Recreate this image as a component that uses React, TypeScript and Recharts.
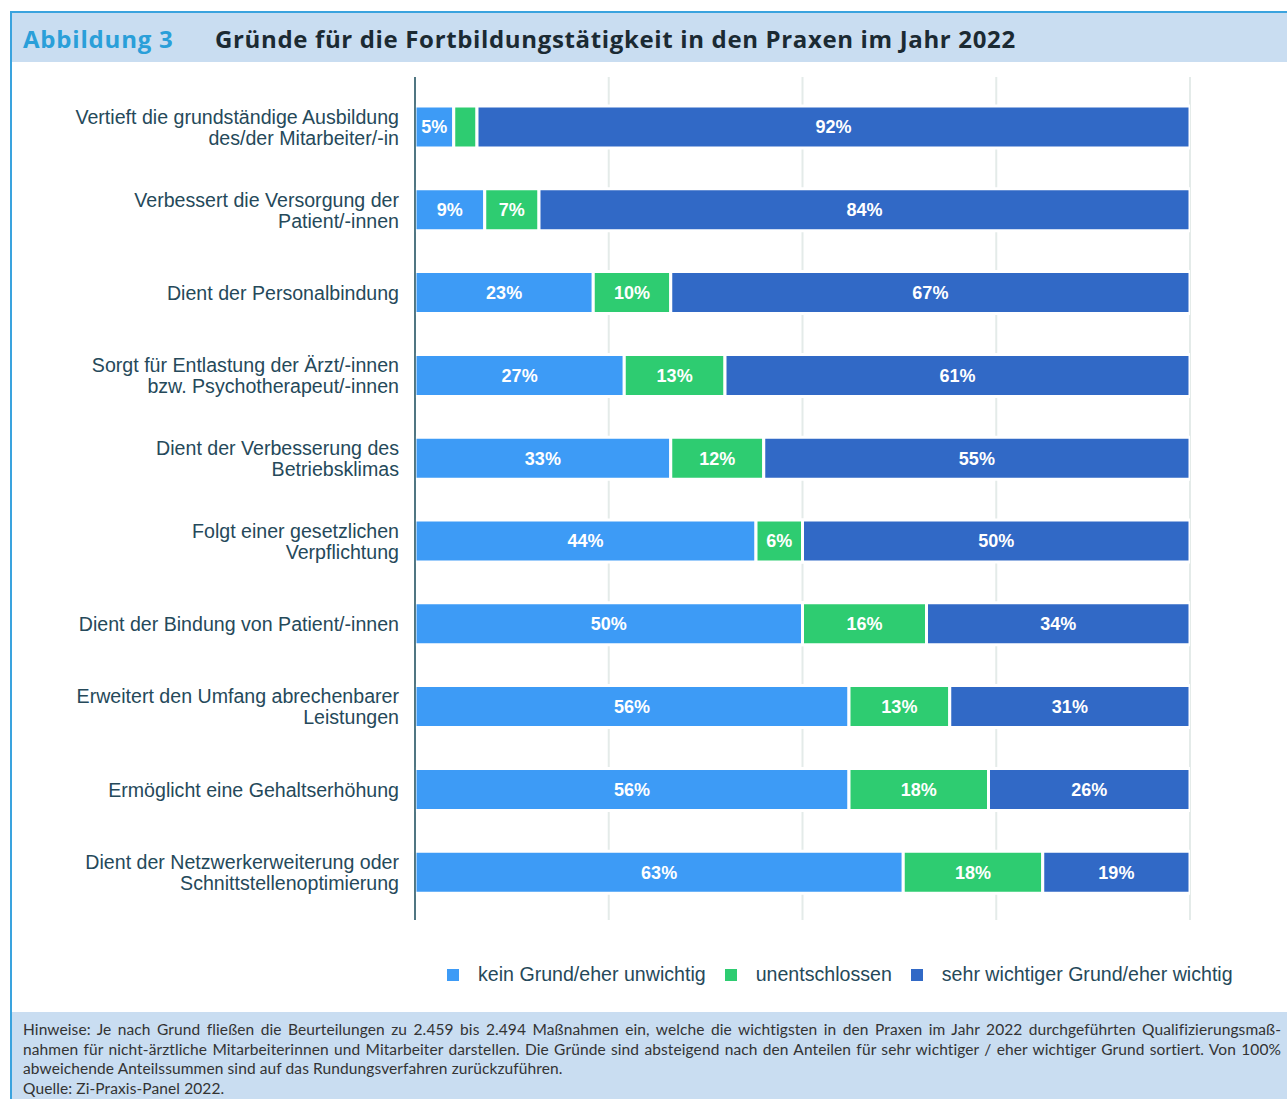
import React from "react";
import {
  Bar,
  BarChart,
  CartesianGrid,
  LabelList,
  Legend,
  XAxis,
  YAxis,
} from "recharts";

const categories = [
  "Vertieft die grundständige Ausbildung\ndes/der Mitarbeiter/-in",
  "Verbessert die Versorgung der\nPatient/-innen",
  "Dient der Personalbindung",
  "Sorgt für Entlastung der Ärzt/-innen\nbzw. Psychotherapeut/-innen",
  "Dient der Verbesserung des\nBetriebsklimas",
  "Folgt einer gesetzlichen\nVerpflichtung",
  "Dient der Bindung von Patient/-innen",
  "Erweitert den Umfang abrechenbarer\nLeistungen",
  "Ermöglicht eine Gehaltserhöhung",
  "Dient der Netzwerkerweiterung oder\nSchnittstellenoptimierung",
];

const keinGrund = [5, 9, 23, 27, 33, 44, 50, 56, 56, 63];
const unentschlossen = [3, 7, 10, 13, 12, 6, 16, 13, 18, 18];
const sehrWichtig = [92, 84, 67, 61, 55, 50, 34, 31, 26, 19];

const xTicks = [0, 25, 50, 75, 100];

const SERIES = [
  { key: "kein", name: "kein Grund/eher unwichtig", color: "#3d9bf6" },
  { key: "unent", name: "unentschlossen", color: "#2ecc71" },
  { key: "sehr", name: "sehr wichtiger Grund/eher wichtig", color: "#3169c6" },
];

const data = categories.map((c, i) => ({
  cat: c,
  kein: keinGrund[i],
  unent: unentschlossen[i],
  sehr: sehrWichtig[i],
}));

const TEXT = "#25495a";
const BAND = "#c9ddf1";
const FRAME = "#3aa3de";
const SANS = "'Liberation Sans', Arial, sans-serif";

function CategoryTick({ x, y, payload }: any) {
  const lines = String(payload.value).split("\n");
  const lh = 21;
  const start = -((lines.length - 1) * lh) / 2;
  return (
    <text x={x} y={y} textAnchor="end" fill={TEXT} fontSize={19.6} fontFamily={SANS}>
      {lines.map((l, i) => (
        <tspan key={i} x={x} y={y + start + i * lh} dy="0.35em">
          {l}
        </tspan>
      ))}
    </text>
  );
}

function LegendContent() {
  return (
    <div style={{ display: "flex", alignItems: "center", fontFamily: SANS, fontSize: 19.6, color: TEXT }}>
      {SERIES.map((s) => (
        <div key={s.key} style={{ display: "flex", alignItems: "center", marginRight: 19 }}>
          <span style={{ width: 12, height: 12, background: s.color, display: "inline-block", marginRight: 19 }} />
          <span>{s.name}</span>
        </div>
      ))}
    </div>
  );
}

const fmt = (v: any) => (Number(v) >= 4 ? `${v}%` : "");

export default function App() {
  return (
    <div style={{ position: "absolute", left: 0, top: 0, width: 1287, height: 1099, background: "#fff", overflow: "hidden" }}>
      <div
        style={{
          position: "absolute",
          left: 10,
          top: 11,
          width: 1300,
          height: 1100,
          borderTop: `2px solid ${FRAME}`,
          borderLeft: `2px solid ${FRAME}`,
        }}
      />
      <div
        style={{
          position: "absolute",
          left: 12,
          top: 13,
          width: 1290,
          height: 49,
          background: BAND,
          fontFamily: "'Open Sans', sans-serif",
          fontWeight: 700,
          fontSize: 24,
          lineHeight: "30px",
        }}
      >
        <span style={{ position: "absolute", left: 11, top: 11, color: "#2a9fd9", letterSpacing: 0.8 }}>Abbildung 3</span>
        <span style={{ position: "absolute", left: 203, top: 11, color: "#1b2a33", letterSpacing: 0.65 }}>
          Gründe für die Fortbildungstätigkeit in den Praxen im Jahr 2022
        </span>
      </div>

      <div style={{ position: "absolute", left: 12, top: 62 }}>
        <BarChart
          width={1275}
          height={950}
          data={data}
          layout="vertical"
          barSize={42}
          margin={{ top: 15, right: 97, left: 0, bottom: 26 }}
        >
          <CartesianGrid vertical horizontal={false} stroke="#e4ebe9" strokeWidth={2} />
          <XAxis type="number" domain={[0, 100]} ticks={xTicks} allowDataOverflow hide />
          <YAxis
            type="category"
            dataKey="cat"
            width={403}
            tickLine={false}
            tickMargin={10}
            padding={{ top: 9, bottom: 6 }}
            axisLine={{ stroke: "#1f4f5f", strokeWidth: 1.5 }}
            tick={<CategoryTick />}
            interval={0}
          />
          <Legend
            verticalAlign="bottom"
            align="left"
            content={<LegendContent />}
            wrapperStyle={{ paddingTop: 43, left: 435, width: 840 }}
          />
          {SERIES.map((s) => (
            <Bar
              key={s.key}
              dataKey={s.key}
              name={s.name}
              stackId="a"
              fill={s.color}
              stroke="#ffffff"
              strokeWidth={3}
              isAnimationActive={false}
            >
              <LabelList
                dataKey={s.key}
                position="center"
                formatter={fmt}
                fill="#ffffff"
                fontSize={18}
                fontWeight="bold"
                fontFamily={SANS}
              />
            </Bar>
          ))}
        </BarChart>
      </div>

      <div
        style={{
          position: "absolute",
          left: 12,
          top: 1012,
          width: 1290,
          height: 90,
          background: BAND,
        }}
      />
      <div
        style={{
          position: "absolute",
          left: 23,
          top: 1020,
          width: 1258,
          fontFamily: "Lato, sans-serif",
          fontSize: 15.5,
          letterSpacing: 0.1,
          lineHeight: "19.5px",
          color: "#333",
        }}
      >
        <div style={{ textAlign: "justify", textAlignLast: "justify" }}>
          Hinweise: Je nach Grund fließen die Beurteilungen zu 2.459 bis 2.494 Maßnahmen ein, welche die wichtigsten in den Praxen im Jahr 2022 durchgeführten Qualifizierungsmaß-
        </div>
        <div style={{ textAlign: "justify", textAlignLast: "justify" }}>
          nahmen für nicht-ärztliche Mitarbeiterinnen und Mitarbeiter darstellen. Die Gründe sind absteigend nach den Anteilen für sehr wichtiger / eher wichtiger Grund sortiert. Von 100%
        </div>
        <div>abweichende Anteilssummen sind auf das Rundungsverfahren zurückzuführen.</div>
        <div>Quelle: Zi-Praxis-Panel 2022.</div>
      </div>
    </div>
  );
}
